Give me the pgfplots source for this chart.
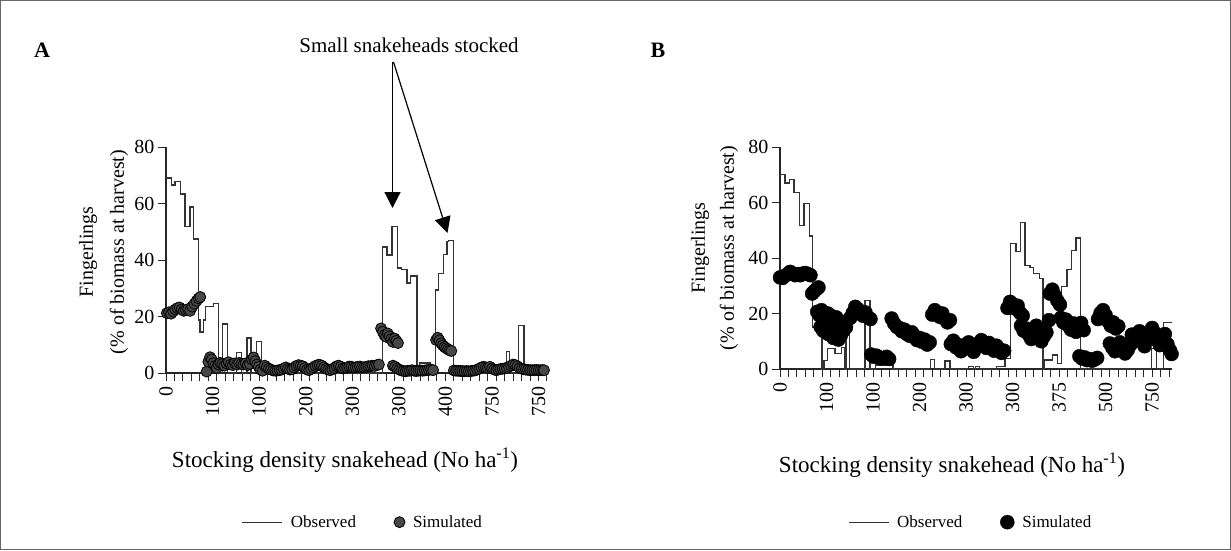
\documentclass[border=0pt]{standalone}
\usepackage{fontspec}
\setmainfont{Liberation Serif}
\usepackage{pgfplots}
\pgfplotsset{compat=1.18}
\usetikzlibrary{arrows.meta}

\newcommand{\tf}{\fontsize{20}{22}\selectfont}
\newcommand{\lf}{\fontsize{17}{19}\selectfont}
\newcommand{\xf}{\fontsize{23}{25}\selectfont}

\pgfplotsset{
  panel/.style={
    scale only axis, anchor=south west,
    axis lines*=left, axis line style={-, line width=1.2pt, black!85},
    ymin=0, ymax=80, ytick={0,20,...,80},
    tick align=outside, major tick length=8pt, minor tick length=8pt,
    tick style={line width=1pt, black!85},
    every major x tick/.append style={draw opacity=0},
    xticklabel style={rotate=90, anchor=east, font=\tf, xshift=-2pt},
    yticklabel style={font=\tf},
    /pgf/number format/assume math mode=true,
    clip=false,
    legend columns=2,
    legend cell align=left,
    legend style={draw=none, fill=none, font=\lf, anchor=west,
      nodes={inner xsep=4pt},
      /tikz/every odd column/.append style={column sep=4pt},
      /tikz/every even column/.append style={column sep=34pt}},
  },
  obs/.style={const plot, draw=black!80, line width=1.3pt, forget plot},
  obsleg/.style={legend image code/.code={\draw[black!80, line width=1.3pt] (0pt,0pt) -- (40pt,0pt);}},
}

\begin{document}
\begin{tikzpicture}[x=1pt,y=1pt]
\useasboundingbox (0,0) rectangle (1231,550);
\draw[black!60, line width=1pt] (0.5,0.5) rectangle (1230.5,549.5);

% ---------------- Panel A ----------------
\begin{axis}[panel, at={(166pt,177pt)}, width=381pt, height=226pt,
  xmin=0, xmax=90,
  xtick={0,11,22,33,44,55,66,77,88},
  xticklabels={0,100,100,200,300,300,400,750,750},
  minor xtick={0,2,...,90},
  legend style={at={(0.19,-0.66)}}]
\addplot[obs] coordinates {
(0,69) (1.3,66.5) (2.1,67.7) (3.5,63.4) (4.5,51.8) (5.7,58.8) (6.5,47.4)
(7.6,18.8) (8.0,14.5) (8.8,18.8) (9.4,23.5) (11.2,24.6) (12.4,0) (13.4,17.3)
(14.6,0) (16.7,7.2) (17.9,0) (19.1,12.4) (20.1,0) (21.3,11.1) (22.5,0)
(51.1,44.6) (52.2,41.8) (53.4,51.8) (54.7,37.2) (55.7,36.6) (56.9,31.9)
(57.7,34.3) (59.3,0) (59.8,3.5) (62.4,0) (63.6,29.4) (64.4,35.3) (65.6,42)
(66.4,46.5) (66.8,47) (67.9,0) (80.4,7.5) (81.2,0) (83.2,16.7) (84.6,0) (90,0)
};
\addplot[only marks, mark=*, mark size=5.5pt, forget plot,
  mark options={fill=black!72, draw=black, line width=0.8pt}] coordinates {
(0.2,21.2)(0.7,21.5)(1.2,21.0)(1.7,21.8)(2.2,22.5)(2.7,23.0)(3.2,23.2)(3.7,22.5)
(4.2,22.0)(4.7,22.3)(5.2,22.6)(5.7,22.0)(6.2,23.5)(6.7,24.5)(7.2,25.5)(7.7,26.4)(8.1,26.9)
(9.6,0.5)(10.0,4.0)(10.4,5.6)(10.8,4.8)(11.2,3.5)(11.6,2.5)(12.0,1.8)(12.4,3.0)
(12.8,3.6)(13.3,3.2)(13.8,2.6)(14.3,3.4)(14.8,3.8)(15.3,3.0)(15.8,2.8)(16.3,3.4)
(16.8,3.0)(17.3,3.6)(17.8,3.2)(18.3,3.0)(18.8,3.4)(19.3,2.8)(19.8,3.2)(20.3,4.8)
(20.7,5.5)(21.1,4.2)(21.5,3.0)(21.9,2.2)(22.3,1.2)(22.8,0.8)(23.3,2.6)(23.8,2.0)
(24.3,1.5)(24.8,1.2)(25.3,0.9)(25.8,0.8)(26.3,0.9)(26.8,1.0)(27.3,1.2)(27.8,1.6)
(28.3,2.0)(28.8,1.5)(29.3,1.2)(29.8,1.3)(30.3,2.0)(30.8,2.5)(31.3,2.8)(31.8,2.6)
(32.3,2.4)(32.8,1.8)(33.3,1.2)(33.8,1.0)(34.3,1.4)(34.8,2.0)(35.3,2.5)(35.8,2.8)
(36.3,2.9)(36.8,2.6)(37.3,2.0)(37.8,1.5)(38.3,1.2)(38.8,1.0)(39.3,1.3)(39.8,1.8)
(40.3,2.4)(40.8,2.6)(41.3,2.2)(41.8,1.6)(42.3,1.8)(42.8,2.0)(43.3,2.3)(43.8,2.2)
(44.3,1.9)(44.8,2.0)(45.3,2.2)(45.8,2.3)(46.3,2.0)(46.8,2.0)(47.3,2.2)(47.8,2.4)
(48.3,2.4)(48.8,2.6)(49.3,2.5)(49.8,2.8)(50.3,3.0)
(50.8,15.8)(51.2,14.6)(51.6,13.4)(52.0,12.8)(52.4,14.0)(52.8,13.0)(53.2,12.0)
(53.6,11.0)(54.0,12.2)(54.4,11.4)(54.8,10.6)
(53.6,2.6)(54.1,2.2)(54.6,1.6)(55.1,1.2)(55.6,0.9)(56.1,0.7)(56.6,0.6)(57.1,0.8)
(57.6,0.8)(58.1,1.0)(58.6,0.8)(59.1,0.7)(59.6,0.8)(60.1,0.9)(60.6,0.8)(61.1,0.9)
(61.6,1.0)(62.1,1.1)(62.6,1.2)(63.1,1.0)
(63.8,11.7)(64.2,12.5)(64.6,11.6)(65.0,10.5)(65.4,9.8)(65.8,9.2)(66.2,8.8)
(66.6,8.4)(67.0,8.0)(67.4,7.8)
(68.0,0.9)(68.5,0.8)(69.0,0.8)(69.5,0.7)(70.0,0.7)(70.5,0.6)(71.0,0.7)(71.5,0.6)
(72.0,0.7)(72.5,0.8)(73.0,0.9)(73.5,1.2)(74.0,1.5)(74.5,2.0)(75.0,2.2)(75.5,2.0)
(76.0,1.8)(76.5,2.2)(77.0,1.6)(77.5,1.2)(78.0,1.0)(78.5,1.2)(79.0,1.4)(79.5,1.5)
(80.0,1.6)(80.5,1.8)(81.0,2.2)(81.5,2.6)(82.0,3.0)(82.5,2.8)(83.0,2.4)(83.5,1.8)
(84.0,1.5)(84.5,1.3)(85.0,1.2)(85.5,1.1)(86.0,1.0)(86.5,1.0)(87.0,1.0)(87.5,1.1)
(88.0,1.0)(88.5,1.0)(89.0,1.0)(89.3,1.0)
};
\addlegendimage{obsleg}
\addlegendentry{Observed}
\addlegendimage{only marks, mark=*, mark size=5.5pt, mark options={fill=black!72, draw=black, line width=0.8pt}}
\addlegendentry{Simulated}
\end{axis}

% ---------------- Panel B ----------------
\begin{axis}[panel, at={(780pt,181pt)}, width=392pt, height=222pt,
  xmin=0, xmax=92.7,
  xtick={0,11,22,33,44,55,66,77,88},
  xticklabels={0,100,100,200,300,300,375,500,750},
  minor xtick={0,2,...,92},
  legend style={at={(0.165,-0.69)}}]
\addplot[obs] coordinates {
(0,70) (1.2,67) (2.2,68.4) (3.3,63.5) (4.6,51.8) (5.7,59.7) (6.9,47.9) (7.7,15.1)
(9.9,0) (10.4,3.1) (11.3,7.4) (13.0,5.6) (14.6,7.7) (15.4,0) (15.6,15) (16.4,0)
(20.1,24.7) (21.3,0) (22.5,1.4) (26.7,0) (35.6,3.5) (36.6,0) (39.0,2.9) (40.2,0)
(44.5,1.0) (45.7,0) (46.2,1.0) (47.2,0) (51.2,0.8) (53.2,3.8) (54.5,45.3)
(55.8,42.3) (56.9,52.8) (57.9,37.4) (59.1,36.6) (60.0,34.5) (61.3,32.7) (62.2,0)
(62.4,3.2) (64.5,5.0) (65.7,2.0) (66.6,29.8) (67.9,35.8) (68.9,42.7) (70.0,47.2)
(71.1,0) (87.9,7.5) (89.1,0) (90.7,16.8) (92.7,16.8)
};
\addplot[only marks, mark=*, mark size=7pt, forget plot,
  mark options={fill=black, draw=black}] coordinates {
(0.0,33.0)(0.6,32.8)(1.2,33.6)(1.8,34.2)(2.4,35.0)(3.0,34.4)(3.6,33.8)(4.2,34.2)
(4.8,33.8)(5.4,34.4)(6.0,34.6)(6.6,34.2)(7.2,33.8)
(7.6,27.2)(8.1,28.0)(8.6,28.8)(9.1,29.4)
(8.8,20.6)(9.3,19.4)(9.8,21.2)(10.3,20.4)(10.8,18.8)(11.3,20.0)(11.8,18.2)
(12.3,19.0)(12.8,17.2)(13.3,18.6)(13.8,17.6)
(9.6,15.2)(10.2,13.8)(10.8,15.6)(11.4,12.6)(12.0,14.2)(12.6,11.2)(13.2,12.8)
(13.8,10.6)(14.4,12.2)(15.0,13.8)(15.6,15.0)
(16.6,18.4)(17.2,20.2)(17.8,22.4)(18.4,21.6)(19.0,20.6)(19.6,19.2)(20.2,20.4)
(20.8,18.6)(21.4,18.0)
(21.6,5.2)(22.2,4.4)(22.8,4.8)(23.4,4.2)(24.0,3.8)(24.6,4.0)(25.2,4.4)(25.8,3.6)
(26.4,18.2)(27.0,16.4)(27.6,15.2)(28.2,14.8)(28.8,13.6)(29.4,14.2)(30.0,12.6)
(30.6,12.0)(31.2,13.2)(31.8,11.4)(32.4,10.4)(33.0,11.2)(33.6,9.8)(34.2,10.6)
(34.8,8.8)(35.4,9.6)
(36.0,19.6)(36.6,21.2)(37.2,20.4)(37.8,18.8)(38.4,20.0)(39.0,18.0)(39.6,16.8)(40.2,17.6)
(40.4,9.0)(41.0,10.2)(41.6,7.8)(42.2,8.6)(42.8,6.4)(43.4,7.2)(44.0,8.8)(44.6,9.6)
(45.2,7.4)(45.8,6.2)(46.4,8.0)(47.0,9.2)(47.6,10.4)(48.2,8.8)(48.8,7.6)(49.4,9.4)
(50.0,7.8)(50.6,6.6)(51.2,8.4)(51.8,7.2)(52.4,5.8)(53.0,6.6)
(53.8,22.0)(54.4,24.2)(55.0,23.4)(55.6,21.8)(56.2,22.8)(56.8,20.2)(57.4,19.2)
(57.0,15.6)(57.6,13.8)(58.2,14.6)(58.8,12.4)(59.4,10.8)(60.0,13.0)(60.6,15.6)
(61.2,12.2)(61.8,10.0)(62.4,11.8)(63.0,13.2)(63.6,17.6)
(63.8,27.2)(64.4,28.6)(65.0,26.4)(65.6,24.6)(66.2,23.2)
(66.4,18.4)(67.0,16.8)(67.6,17.8)(68.2,15.6)(68.8,14.2)(69.4,16.4)(70.0,13.4)
(70.6,15.0)(71.2,16.6)(71.8,14.0)
(70.8,4.6)(71.4,3.8)(72.0,4.2)(72.6,3.2)(73.2,3.6)(73.8,3.0)(74.4,3.4)(75.0,4.0)
(75.2,18.0)(75.8,20.2)(76.4,21.2)(77.0,19.4)(77.6,17.2)(78.2,15.6)(78.8,16.8)
(79.4,14.6)(80.0,15.4)
(78.0,9.2)(78.6,7.6)(79.2,6.4)(79.8,8.0)(80.4,9.6)(81.0,7.4)(81.6,5.6)(82.2,6.8)(82.8,8.6)
(83.2,12.4)(83.8,10.2)(84.4,11.4)(85.0,13.6)(85.6,9.8)(86.2,8.2)(86.8,10.6)
(87.4,12.4)(88.0,14.8)(88.6,13.0)(89.2,10.4)(89.8,8.6)(90.4,11.2)(91.0,12.6)
(91.6,9.0)(92.2,6.8)(92.6,5.4)
};
\addlegendimage{obsleg}
\addlegendentry{Observed}
\addlegendimage{only marks, mark=*, mark size=7pt, mark options={fill=black, draw=black}}
\addlegendentry{Simulated}
\end{axis}

% ---------------- Annotations ----------------
\node[font=\fontsize{22}{24}\selectfont\bfseries] at (42,500) {A};
\node[font=\fontsize{22}{24}\selectfont\bfseries] at (658,500) {B};
\node[font=\fontsize{21}{23}\selectfont] at (409,505) {Small snakeheads stocked};
\draw[line width=1.2pt, -{Triangle[width=16pt,length=16pt]}] (392.5,488) -- (392.5,342);
\draw[line width=1.2pt, -{Triangle[width=16pt,length=16pt]}] (393.5,488) -- (447.5,317);

\node[font=\tf, rotate=90] at (88,298) {Fingerlings};
\node[font=\tf, rotate=90] at (119,298) {(\% of biomass at harvest)};
\node[font=\tf, rotate=90] at (700,302) {Fingerlings};
\node[font=\tf, rotate=90] at (729,302) {(\% of biomass at harvest)};

\node[font=\xf] at (345,90) {Stocking density snakehead (No ha\textsuperscript{-1})};
\node[font=\xf] at (952,85) {Stocking density snakehead (No ha\textsuperscript{-1})};
\end{tikzpicture}
\end{document}
